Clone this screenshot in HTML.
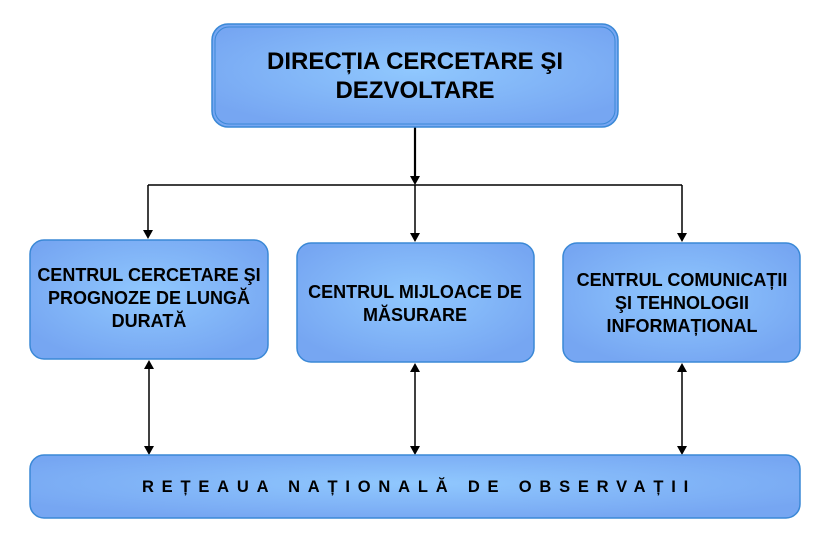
<!DOCTYPE html>
<html><head><meta charset="utf-8"><style>
html,body{margin:0;padding:0;background:#fff;}
svg{display:block;}
text{font-family:"Liberation Sans",Arial,sans-serif;font-weight:bold;fill:#000;}
</style></head><body>
<svg width="816" height="546" viewBox="0 0 816 546" xmlns="http://www.w3.org/2000/svg">
<defs>
<radialGradient id="g" cx="50%" cy="45%" r="60%">
<stop offset="0" stop-color="#90c8fe"/>
<stop offset="1" stop-color="#76a6f2"/>
</radialGradient>
</defs>
<g stroke="#000" fill="none">
<line x1="415" y1="127" x2="415" y2="178" stroke-width="2.2"/>
<path d="M410,176 L420,176 L415,185 z" fill="#000" stroke="none"/>
<line x1="148" y1="185" x2="682" y2="185" stroke-width="1.5"/>
<line x1="148" y1="185" x2="148" y2="232" stroke-width="1.5"/>
<path d="M143,230 L153,230 L148,239 z" fill="#000" stroke="none"/>
<line x1="415" y1="185" x2="415" y2="235" stroke-width="1.5"/>
<path d="M410,233 L420,233 L415,242 z" fill="#000" stroke="none"/>
<line x1="682" y1="185" x2="682" y2="235" stroke-width="1.5"/>
<path d="M677,233 L687,233 L682,242 z" fill="#000" stroke="none"/>
<line x1="149" y1="366" x2="149" y2="450" stroke-width="1.5"/>
<path d="M144,369 L154,369 L149,360 z M144,446 L154,446 L149,455 z" fill="#000" stroke="none"/>
<line x1="415" y1="369" x2="415" y2="450" stroke-width="1.5"/>
<path d="M410,372 L420,372 L415,363 z M410,446 L420,446 L415,455 z" fill="#000" stroke="none"/>
<line x1="682" y1="369" x2="682" y2="450" stroke-width="1.5"/>
<path d="M677,372 L687,372 L682,363 z M677,446 L687,446 L682,455 z" fill="#000" stroke="none"/>
</g>
<g fill="url(#g)" stroke="#3a88d6" stroke-width="1.5">
<rect x="212" y="24" width="406" height="103" rx="16"/>
<rect x="215" y="27" width="400" height="97" rx="14" fill="none" stroke-width="1"/>
<rect x="30" y="240" width="238" height="119" rx="14"/>
<rect x="297" y="243" width="237" height="119" rx="14"/>
<rect x="563" y="243" width="237" height="119" rx="14"/>
<rect x="30" y="455" width="770" height="63" rx="14"/>
</g>
<text x="415" y="69" font-size="24" text-anchor="middle">DIRECȚIA CERCETARE ŞI</text>
<text x="415" y="98" font-size="24" text-anchor="middle">DEZVOLTARE</text>
<text x="149" y="281" font-size="18" text-anchor="middle">CENTRUL CERCETARE ŞI</text>
<text x="149" y="304" font-size="18" text-anchor="middle">PROGNOZE DE LUNGĂ</text>
<text x="149" y="327" font-size="18" text-anchor="middle">DURATĂ</text>
<text x="415" y="298" font-size="18" text-anchor="middle">CENTRUL MIJLOACE DE</text>
<text x="415" y="321" font-size="18" text-anchor="middle">MĂSURARE</text>
<text x="682" y="286" font-size="18" text-anchor="middle">CENTRUL COMUNICAȚII</text>
<text x="682" y="309" font-size="18" text-anchor="middle">ŞI TEHNOLOGII</text>
<text x="682" y="332" font-size="18" text-anchor="middle">INFORMAȚIONAL</text>
<text x="419" y="492" font-size="16.5" text-anchor="middle" letter-spacing="7.8">REȚEAUA NAȚIONALĂ DE OBSERVAȚII</text>
</svg>
</body></html>
